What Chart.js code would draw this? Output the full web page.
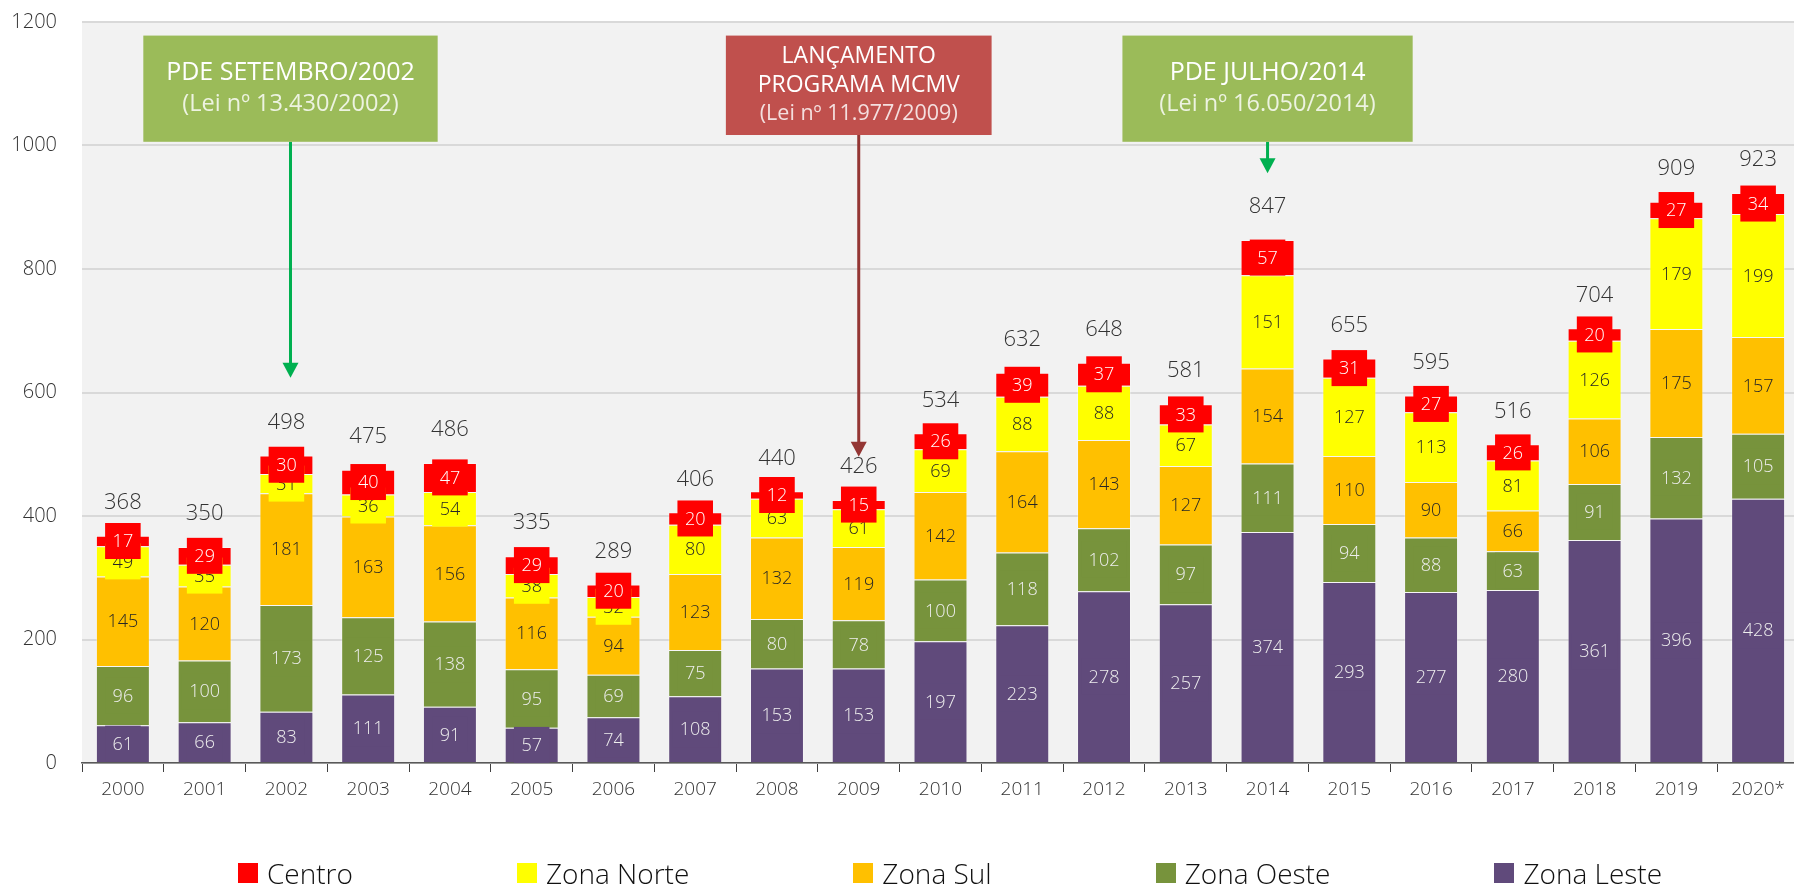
<!DOCTYPE html>
<html>
<head>
<meta charset="utf-8">
<title>Lançamentos por zona</title>
<script src="https://cdn.jsdelivr.net/npm/chart.js@4.4.1/dist/chart.umd.min.js"></script>
<style>
  html, body { margin: 0; padding: 0; background: #fff; overflow: hidden; }
  #wrap { position: relative; width: 1800px; height: 887px; }
  #legend {
    position: absolute; left: 0; top: 853px; width: 1794px;
    display: flex; justify-content: center; gap: 164px;
    padding-left: 106px; box-sizing: border-box;
    font: 300 28px "Open Sans", sans-serif; color: #111; line-height: 40px;
  }
  .item { display: flex; align-items: center; }
  .swatch { width: 20px; height: 20px; margin-right: 9px; }
</style>
</head>
<body>
<div id="wrap">
  <canvas id="chart" width="1800" height="887"></canvas>
  <div id="legend"></div>
</div>
<script>
let years = ["2000", "2001", "2002", "2003", "2004", "2005", "2006", "2007", "2008", "2009", "2010",
    "2011", "2012", "2013", "2014", "2015", "2016", "2017", "2018", "2019", "2020*"];

let zonaLeste = [61, 66, 83, 111, 91, 57, 74, 108, 153, 153, 197, 223, 278, 257, 374, 293, 277, 280, 361, 396, 428];
let zonaOeste = [96, 100, 173, 125, 138, 95, 69, 75, 80, 78, 100, 118, 102, 97, 111, 94, 88, 63, 91, 132, 105];
let zonaSul = [145, 120, 181, 163, 156, 116, 94, 123, 132, 119, 142, 164, 143, 127, 154, 110, 90, 66, 106, 175, 157];
let zonaNorte = [49, 35, 31, 36, 54, 38, 32, 80, 63, 61, 69, 88, 88, 67, 151, 127, 113, 81, 126, 179, 199];
let centro = [17, 29, 30, 40, 47, 29, 20, 20, 12, 15, 26, 39, 37, 33, 57, 31, 27, 26, 20, 27, 34];
let totals = [368, 350, 498, 475, 486, 335, 289, 406, 440, 426, 534, 632, 648, 581, 847, 655, 595, 516, 704, 909, 923];

let yTicks = [0, 200, 400, 600, 800, 1000, 1200];

// stack order, bottom to top
let series = [
    { name: "Zona Leste", data: zonaLeste, color: "#604a7b", text: "#eeeeee" },
    { name: "Zona Oeste", data: zonaOeste, color: "#77933c", text: "#eeeeee" },
    { name: "Zona Sul", data: zonaSul, color: "#ffc000", text: "#262626" },
    { name: "Zona Norte", data: zonaNorte, color: "#ffff00", text: "#262626" },
    { name: "Centro", data: centro, color: "#ff0000", text: "#ffffff" }
];

// milestone boxes: x in category index, y in axis units
let notes = [
    { lines: ["PDE SETEMBRO/2002", "(Lei nº 13.430/2002)"], at: 2.05, span: 3.6, top: 1178, bottom: 1006, tip: 624, fill: "#9bbb59", arrow: "#00b050" },
    { lines: ["LANÇAMENTO", "PROGRAMA MCMV", "(Lei nº 11.977/2009)"], at: 9.0, span: 3.25, top: 1178, bottom: 1017, tip: 496, fill: "#c0504d", arrow: "#943634" },
    { lines: ["PDE JULHO/2014", "(Lei nº 16.050/2014)"], at: 14.0, span: 3.55, top: 1178, bottom: 1006, tip: 955, fill: "#9bbb59", arrow: "#00b050" }
];

const FONT = '"Open Sans", sans-serif';

let plotBackground = {
    id: "plotBackground",
    beforeDraw(chart) {
        let a = chart.chartArea;
        chart.ctx.save();
        chart.ctx.fillStyle = "#f2f2f2";
        chart.ctx.fillRect(a.left, a.top, a.right - a.left, a.bottom - a.top);
        chart.ctx.restore();
    }
};

let segmentLabels = {
    id: "segmentLabels",
    afterDatasetsDraw(chart) {
        let ctx = chart.ctx;
        ctx.save();
        ctx.font = "300 18px " + FONT;
        ctx.textAlign = "center";
        ctx.textBaseline = "middle";

        chart.data.datasets.forEach((ds, di) => {
            let meta = chart.getDatasetMeta(di);
            meta.data.forEach((bar, i) => {
                let txt = String(ds.data[i]);
                let cy = (bar.y + bar.base) / 2;
                let w = ctx.measureText(txt).width + 15;
                let h = 36;
                ctx.fillStyle = series[di].color;
                ctx.fillRect(bar.x - w / 2, cy - h / 2, w, h);
                ctx.fillStyle = series[di].text;
                ctx.fillText(txt, bar.x, cy + 1);
            });
        });

        // totals above each column
        let topMeta = chart.getDatasetMeta(chart.data.datasets.length - 1);
        ctx.font = "300 22px " + FONT;
        ctx.fillStyle = "#333333";
        topMeta.data.forEach((bar, i) => {
            ctx.fillText(String(totals[i]), bar.x, bar.y - 33);
        });
        ctx.restore();
    }
};

let milestones = {
    id: "milestones",
    afterDraw(chart) {
        let ctx = chart.ctx;
        let x = chart.scales.x;
        let y = chart.scales.y;
        let step = x.width / years.length;

        ctx.save();
        notes.forEach(n => {
            let cx = x.getPixelForValue(0) + n.at * step;
            let w = n.span * step;
            let top = y.getPixelForValue(n.top);
            let bottom = y.getPixelForValue(n.bottom);
            let tip = y.getPixelForValue(n.tip);

            // arrow
            ctx.strokeStyle = n.arrow;
            ctx.lineWidth = 3;
            ctx.beginPath();
            ctx.moveTo(cx, bottom);
            ctx.lineTo(cx, tip - 14);
            ctx.stroke();
            ctx.fillStyle = n.arrow;
            ctx.beginPath();
            ctx.moveTo(cx - 8, tip - 15);
            ctx.lineTo(cx + 8, tip - 15);
            ctx.lineTo(cx, tip);
            ctx.closePath();
            ctx.fill();

            // box
            ctx.fillStyle = n.fill;
            ctx.fillRect(cx - w / 2, top, w, bottom - top);

            ctx.textAlign = "center";
            ctx.textBaseline = "middle";
            let three = n.lines.length === 3;
            let mid = (top + bottom) / 2;
            let lineH = three ? 29 : 31;
            n.lines.forEach((line, li) => {
                let isLaw = line.startsWith("(");
                let size = isLaw ? (three ? 21.5 : 23.5) : (three ? 23 : 25);
                ctx.font = size + "px " + FONT;
                ctx.fillStyle = isLaw ? "rgba(255,255,255,0.82)" : "#ffffff";
                let ly = mid + (li - (n.lines.length - 1) / 2) * lineH;
                ctx.fillText(line, cx, ly);
            });
        });
        ctx.restore();
    }
};

let chart = new Chart(document.getElementById("chart").getContext("2d"), {
    type: "bar",
    data: {
        labels: years,
        datasets: series.map(s => ({
            label: s.name,
            data: s.data,
            backgroundColor: s.color,
            borderColor: "rgba(255,255,255,0.3)",
            borderWidth: 1,
            barPercentage: 0.66,
            categoryPercentage: 1.0
        }))
    },
    options: {
        responsive: false,
        animation: false,
        layout: { padding: { top: 22, right: 1, bottom: 74, left: 0 } },
        plugins: {
            legend: { display: false },
            tooltip: { enabled: false }
        },
        scales: {
            x: {
                stacked: true,
                grid: {
                    display: true,
                    drawOnChartArea: false,
                    drawTicks: true,
                    tickLength: 9,
                    offset: true,
                    color: "#404040"
                },
                border: { display: true, color: "#595959", width: 1.5 },
                ticks: {
                    color: "#333333",
                    font: { family: FONT, size: 19, weight: 300 },
                    padding: 6,
                    maxRotation: 0,
                    autoSkip: false
                },
                afterFit(scale) { scale.height = 50; }
            },
            y: {
                stacked: true,
                min: 0,
                max: 1200,
                afterBuildTicks(scale) { scale.ticks = yTicks.map(v => ({ value: v })); },
                grid: { color: "#d9d9d9", lineWidth: 2, drawTicks: false },
                border: { display: false },
                ticks: {
                    color: "#333333",
                    font: { family: FONT, size: 20, weight: 300 },
                    padding: 25,
                    callback: v => String(v)
                },
                afterFit(scale) {
                    scale.width = 82;
                    scale.paddingTop = 0;
                    scale.paddingBottom = 0;
                }
            }
        }
    },
    plugins: [plotBackground, segmentLabels, milestones]
});

// legend, same order as the original (top of stack first)
let legend = document.getElementById("legend");
series.slice().reverse().forEach(s => {
    let item = document.createElement("div");
    item.className = "item";
    let sw = document.createElement("span");
    sw.className = "swatch";
    sw.style.background = s.color;
    let label = document.createElement("span");
    label.textContent = s.name;
    item.appendChild(sw);
    item.appendChild(label);
    legend.appendChild(item);
});
</script>
</body>
</html>
